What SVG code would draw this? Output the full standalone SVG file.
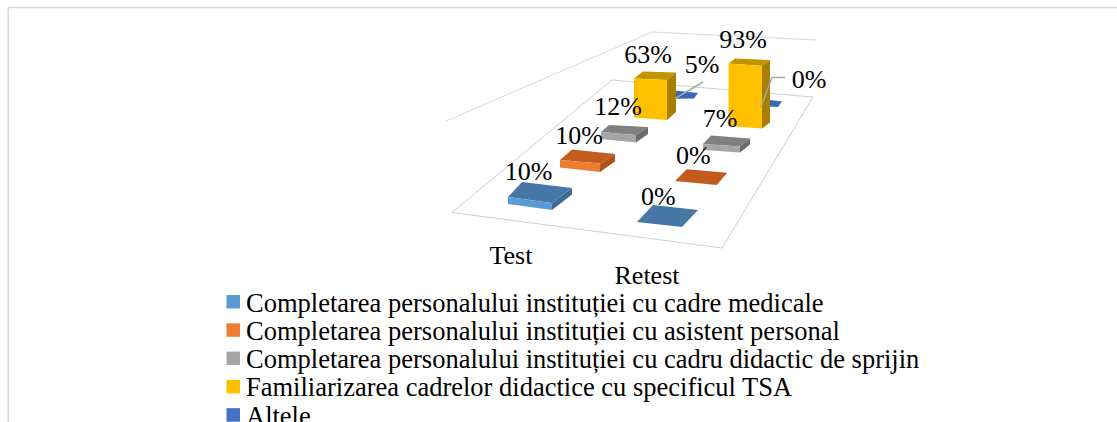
<svg xmlns="http://www.w3.org/2000/svg" width="1117" height="422" viewBox="0 0 1117 422">
  <style>
    text { font-family: "Liberation Serif", "Times New Roman", serif; fill: #000; }
    .lbl { font-size: 26px; text-anchor: middle; }
    .leg { font-size: 26.5px; }
    .grid { fill: none; stroke: #d9d9d9; stroke-width: 1; }
    .lead { fill: none; stroke: #a6a6a6; stroke-width: 1.5; }
    .b-top { fill: #4677a6; } .b-front { fill: #5b9bd5; } .b-side { fill: #3d6a96; }
    .o-top { fill: #c25b1d; } .o-front { fill: #ed7d31; } .o-side { fill: #b0521a; }
    .g-top { fill: #808080; } .g-front { fill: #a5a5a5; } .g-side { fill: #6b6b6b; }
    .y-top { fill: #c29400; } .y-front { fill: #ffc000; } .y-side { fill: #a67e00; }
    .d-top { fill: #3a66b6; } .d-front { fill: #4472c4; }
  </style>

  <!-- chart area frame -->
  <rect x="8.25" y="7.5" width="1200" height="500" fill="#fff" stroke="#d9d9d9" stroke-width="1.5"/>

  <!-- walls and floor -->
  <g id="plot-area">
    <polyline class="grid" points="445,121.5 652,32 817,40"/>
    <polygon class="grid" points="452,212.5 722,248 813,97 612,80" style="stroke:#cfcfcf"/>
  </g>

  <!-- back row: Altele -->
  <g id="bar-test-altele">
    <polygon class="d-top" points="660,89 698,93 694,98.5 660,99"/>
  </g>
  <g id="bar-retest-altele">
    <polygon class="d-top" points="758,98.5 782,101.5 778,107 758,106"/>
  </g>

  <!-- Familiarizarea ... TSA -->
  <g id="bar-test-tsa">
    <polygon class="y-top" points="634,78.5 667,80 676,72.5 643,71.5"/>
    <polygon class="y-front" points="634,78.5 667,80 667,120 634,117.5"/>
    <polygon class="y-side" points="667,80 676,72.5 676,112 667,120"/>
  </g>
  <g id="bar-retest-tsa">
    <polygon class="y-top" points="728.5,63.5 762,66 770,60 735,58.5"/>
    <polygon class="y-front" points="728.5,63.5 762,66 762,128.5 728.5,126"/>
    <polygon class="y-side" points="762,66 770,60 770,122.5 762,128.5"/>
  </g>

  <!-- cadru didactic de sprijin -->
  <g id="bar-test-sprijin">
    <polygon class="g-top" points="601,132 636,135 648,127 609,125"/>
    <polygon class="g-front" points="601,132 636,135 636,142.5 601,139"/>
    <polygon class="g-side" points="636,135 648,127 648,134 636,142.5"/>
  </g>
  <g id="bar-retest-sprijin">
    <polygon class="g-top" points="703,144 740,146.5 750,138.5 711,135.5"/>
    <polygon class="g-front" points="703,144 740,146.5 740,152.5 703,150"/>
    <polygon class="g-side" points="740,146.5 750,138.5 750,144.5 740,152.5"/>
  </g>

  <!-- asistent personal -->
  <g id="bar-test-asistent">
    <polygon class="o-top" points="560,160 600,163.5 615,154 572,149.5"/>
    <polygon class="o-front" points="560,160 600,163.5 600,172 560,167.5"/>
    <polygon class="o-side" points="600,163.5 615,154 615,161.5 600,172"/>
  </g>
  <g id="bar-retest-asistent">
    <polygon class="o-top" points="686.7,169.3 727.3,172.7 716.7,185 675,181"/>
  </g>

  <!-- cadre medicale -->
  <g id="bar-test-medicale">
    <polygon class="b-top" points="508,197 552,203 572,188 522,182"/>
    <polygon class="b-front" points="508,197 552,203 552,210 508,204"/>
    <polygon class="b-side" points="552,203 572,188 572,194.5 552,210"/>
  </g>
  <g id="bar-retest-medicale">
    <polygon class="b-top" points="653,205 698,210 682,227 637,222"/>
  </g>

  <!-- leader lines for the small labels -->
  <g id="connectors">
    <polyline class="lead" points="676,98 703,82"/>
    <polyline class="lead" points="761,107 772,77.5 785,77.5"/>
  </g>

  <!-- data labels -->
  <g id="data-labels">
    <text class="lbl" x="528.5" y="179.5">10%</text>
    <text class="lbl" x="579" y="144">10%</text>
    <text class="lbl" x="618" y="115">12%</text>
    <text class="lbl" x="648" y="62.5">63%</text>
    <text class="lbl" x="702" y="73.3">5%</text>
    <text class="lbl" x="743" y="48.3">93%</text>
    <text class="lbl" x="809" y="88.3">0%</text>
    <text class="lbl" x="720" y="126.7">7%</text>
    <text class="lbl" x="693.3" y="164">0%</text>
    <text class="lbl" x="658.3" y="205">0%</text>
  </g>

  <!-- category axis -->
  <g id="category-axis">
    <text class="lbl" x="511" y="264">Test</text>
    <text class="lbl" x="647" y="284">Retest</text>
  </g>

  <!-- legend -->
  <g id="legend">
    <g id="legend-medicale">
      <rect x="226.5" y="295" width="13.5" height="13.5" fill="#5b9bd5"/>
      <text class="leg" x="246" y="311.5">Completarea personalului instituției cu cadre medicale</text>
    </g>
    <g id="legend-asistent">
      <rect x="226.5" y="323.3" width="13.5" height="13.5" fill="#ed7d31"/>
      <text class="leg" x="246" y="339.8">Completarea personalului instituției cu asistent personal</text>
    </g>
    <g id="legend-sprijin">
      <rect x="226.5" y="351.6" width="13.5" height="13.5" fill="#a5a5a5"/>
      <text class="leg" x="246" y="368.1">Completarea personalului instituției cu cadru didactic de sprijin</text>
    </g>
    <g id="legend-tsa">
      <rect x="226.5" y="379.9" width="13.5" height="13.5" fill="#ffc000"/>
      <text class="leg" x="246" y="396.4">Familiarizarea cadrelor didactice cu specificul TSA</text>
    </g>
    <g id="legend-altele">
      <rect x="226.5" y="408.2" width="13.5" height="13.5" fill="#4472c4"/>
      <text class="leg" x="246" y="424.7">Altele</text>
    </g>
  </g>
</svg>
